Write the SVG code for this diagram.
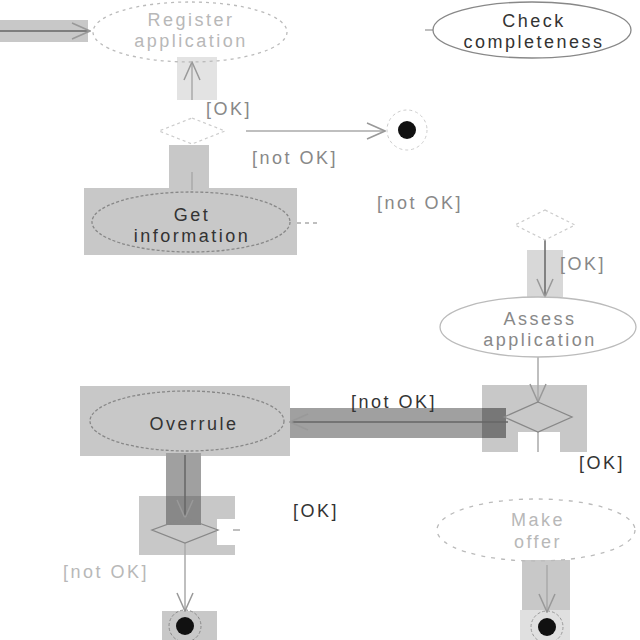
<svg xmlns="http://www.w3.org/2000/svg" width="640" height="640" viewBox="0 0 640 640">
<style>
text{font-family:"Liberation Sans",Arial,sans-serif;font-size:18px;letter-spacing:2.5px;text-anchor:middle}
.faint{fill:#b8b8b8}
.mid{fill:#888}
.dark{fill:#333}
.act{fill:none;stroke:#bbb;stroke-width:1.3}
.actd{fill:none;stroke:#888;stroke-width:1.3}
.hl{fill:#c8c8c8}
.hl2{fill:#a0a0a0}
.ln{stroke:#aaa;stroke-width:1.5;fill:none}
.lnd{stroke:#666;stroke-width:1.5;fill:none}
.dia{fill:none;stroke:#ccc;stroke-width:1.2;stroke-dasharray:3 3}
.diad{fill:none;stroke:#888;stroke-width:1.3}
</style>
<defs>
<marker id="open" viewBox="0 0 20 20" refX="19" refY="10" markerWidth="20" markerHeight="20" markerUnits="userSpaceOnUse" orient="auto">
<path d="M1,2 L19,10 L1,18" fill="none" stroke="#999" stroke-width="1.5"/>
</marker>
</defs>
<rect width="640" height="640" fill="#fff"/>
<g id="highlights">
<rect class="hl" x="0" y="20" width="88" height="22"/>
<rect class="hl" x="177" y="57" width="40" height="43" fill-opacity="0.5"/>
<rect class="hl" x="169" y="145" width="40" height="45"/>
<rect class="hl" x="84" y="188" width="213" height="67"/>
<rect class="hl" x="527" y="250" width="36" height="47" fill-opacity="0.7"/>
<rect class="hl" x="80" y="386" width="210" height="70"/>
<rect class="hl2" x="290" y="408" width="216" height="30"/>
<path class="hl" d="M482,385 H587 V452 H560 V432 H518 V452 H482 Z"/>
<rect fill="#777" x="482" y="408" width="24" height="30"/>
<rect class="hl2" x="166" y="453" width="35" height="44"/>
<path class="hl" d="M139,496 H235 V519 H217 V545 H235 V555 H139 Z"/>
<rect fill="#888" x="166" y="496" width="35" height="29"/>
<rect class="hl" x="522" y="560" width="48" height="52"/>
<rect fill="#e0e0e0" x="520" y="610" width="50" height="30"/>
<rect class="hl" x="162" y="611" width="55" height="29"/>
</g>
<g id="connectors">
<line class="lnd" x1="0" y1="31" x2="90" y2="31" marker-end="url(#open)"/>
<line class="ln" x1="192" y1="100" x2="192" y2="62" marker-end="url(#open)"/>
<line class="ln" x1="192" y1="190" x2="192" y2="172"/>
<line class="ln" x1="246" y1="131" x2="385" y2="131" marker-end="url(#open)"/>
<line class="ln" x1="297" y1="223" x2="320" y2="223" stroke-dasharray="4 4"/>
<line class="ln" x1="425" y1="30" x2="433" y2="30"/>
<line class="lnd" x1="545" y1="240" x2="545" y2="297" marker-end="url(#open)"/>
<line class="ln" x1="538" y1="357" x2="538" y2="402" marker-end="url(#open)"/>
<line class="ln" x1="538" y1="432" x2="538" y2="452"/>
<line class="lnd" x1="508" y1="422" x2="290" y2="422" stroke="#444" marker-end="url(#open)"/>
<line class="lnd" x1="185" y1="455" x2="185" y2="518" marker-end="url(#open)"/>
<line class="ln" x1="233" y1="530" x2="240" y2="530"/>
<line class="ln" x1="185" y1="543" x2="185" y2="611" marker-end="url(#open)"/>
<line class="ln" x1="547" y1="565" x2="547" y2="612" marker-end="url(#open)"/>
</g>
<g id="register">
<ellipse class="act" cx="190" cy="32" rx="97" ry="30" stroke-dasharray="3 4"/>
<text class="faint" x="191" y="26">Register</text>
<text class="faint" x="191" y="47">application</text>
</g>
<g id="check">
<ellipse class="actd" cx="532" cy="30" rx="99" ry="28"/>
<text class="dark" x="534" y="27" fill="#444">Check</text>
<text class="dark" x="534" y="48" fill="#444">completeness</text>
</g>
<g id="decision1"><polygon class="dia" points="192,118 225,131 192,144 159,131"/></g>
<g id="end1">
<circle cx="407" cy="130" r="20" fill="none" stroke="#ccc" stroke-dasharray="3 3"/>
<circle cx="407" cy="130" r="9" fill="#111"/>
</g>
<g id="getinfo">
<ellipse class="actd" cx="191" cy="222" rx="99" ry="30" stroke-dasharray="3 2"/>
<text class="dark" x="192" y="221">Get</text>
<text class="dark" x="192" y="242">information</text>
</g>
<g id="decision2"><polygon class="dia" points="545,210 575,225 545,240 515,225"/></g>
<g id="assess">
<ellipse class="act" cx="538" cy="327" rx="98" ry="30" stroke="#aaa"/>
<text class="mid" x="540" y="325">Assess</text>
<text class="mid" x="540" y="346">application</text>
</g>
<g id="decision3"><polygon class="diad" points="538,402 572,417 538,432 504,417"/></g>
<g id="overrule">
<ellipse class="actd" cx="187" cy="421" rx="97" ry="30" stroke-dasharray="3 2"/>
<text class="dark" x="194" y="430">Overrule</text>
</g>
<g id="decision4"><polygon class="diad" points="185,518 218,530 185,543 152,530"/></g>
<g id="makeoffer">
<ellipse class="act" cx="536" cy="530" rx="99" ry="31" stroke="#ddd" stroke-dasharray="4 6"/>
<text class="faint" x="538" y="526">Make</text>
<text class="faint" x="538" y="548">offer</text>
</g>
<g id="end2">
<circle cx="185" cy="626" r="16" fill="none" stroke="#888" stroke-dasharray="3 2"/>
<circle cx="185" cy="626" r="9" fill="#111"/>
</g>
<g id="end3">
<circle cx="547" cy="627" r="16" fill="none" stroke="#999" stroke-dasharray="3 2"/>
<circle cx="547" cy="627" r="9" fill="#111"/>
</g>
<g id="labels">
<text class="mid" x="229" y="115">[OK]</text>
<text class="mid" x="295" y="164">[not OK]</text>
<text class="mid" x="420" y="209">[not OK]</text>
<text class="mid" x="583" y="270">[OK]</text>
<text class="dark" x="394" y="408">[not OK]</text>
<text class="dark" x="602" y="469">[OK]</text>
<text class="dark" x="316" y="517">[OK]</text>
<text class="faint" x="106" y="578">[not OK]</text>
</g>
</svg>
